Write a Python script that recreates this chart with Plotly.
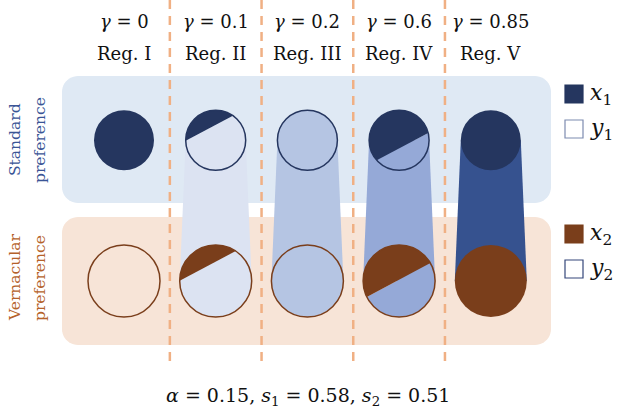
import numpy as np
import plotly.graph_objects as go

# ---------------- data ----------------
regimes = ["Reg. I", "Reg. II", "Reg. III", "Reg. IV", "Reg. V"]
gamma_labels = ["0", "0.1", "0.2", "0.6", "0.85"]
x1_share = [1.0, 0.22, 0.0, 0.65, 1.0]   # standard preference: share of x1
x2_share = [0.0, 0.21, 0.0, 0.48, 1.0]   # vernacular preference: share of x2
has_pillar = [False, True, True, True, True]
params_text = "<i>α</i> = 0.15, <i>s</i><sub>1</sub> = 0.58, <i>s</i><sub>2</sub> = 0.51"

# ---------------- style ----------------
NAVY = "#25365f"
BROWN = "#7a3e1b"
TOP_BOX = "#dfe9f4"
BOT_BOX = "#f7e4d7"
PILLAR = [None, "#dce3f2", "#b5c5e3", "#95a9d7", "#36528f"]
DASH = "#f0b084"
SERIF = "DejaVu Serif"

W, H = 624, 414
PX = 91.7     # pixels per unit (one regime step)
X0 = 124.0    # pixel x of first regime column
Y0 = 281.0    # pixel y of vernacular row


def ux(px):
    return (px - X0) / PX


def uy(py):
    return (Y0 - py) / PX


TOP_ROW = uy(140.3)
BOT_ROW = 0.0
R_TOP = 30 / PX
R_BOT = 36 / PX
THETA = np.deg2rad(28)

shapes = []
annotations = []


def path_from(xs, ys):
    s = "M {:.5f},{:.5f} ".format(xs[0], ys[0])
    s += " ".join("L {:.5f},{:.5f}".format(x, y) for x, y in zip(xs[1:], ys[1:]))
    return s + " Z"


def rounded_rect(x0, y0, x1, y1, rad):
    pts = []
    corners = [(x1 - rad, y0 + rad, -np.pi / 2, 0), (x1 - rad, y1 - rad, 0, np.pi / 2),
               (x0 + rad, y1 - rad, np.pi / 2, np.pi), (x0 + rad, y0 + rad, np.pi, 1.5 * np.pi)]
    for cx, cy, a0, a1 in corners:
        for a in np.linspace(a0, a1, 12):
            pts.append((ux(cx + rad * np.cos(a)), uy(cy + rad * np.sin(a))))
    xs, ys = zip(*pts)
    return path_from(xs, ys)


def seg_offset(f, r):
    lo, hi = -r, r
    for _ in range(80):
        t = (lo + hi) / 2
        a = (r * r * np.arccos(t / r) - t * np.sqrt(max(r * r - t * t, 0))) / (np.pi * r * r)
        if a > f:
            lo = t
        else:
            hi = t
    return (lo + hi) / 2


def arc_path(cx, cy, r, a0, a1):
    ph = np.linspace(a0, a1, 90)
    return path_from(cx + r * np.cos(ph), cy + r * np.sin(ph))


def add_circle(cx, cy, r, share, fill_color, bg_color, outline):
    if share >= 1:
        shapes.append(dict(type="circle", xref="x", yref="y", x0=cx - r, x1=cx + r,
                           y0=cy - r, y1=cy + r, fillcolor=fill_color, line=dict(width=0)))
        return
    if share <= 0:
        shapes.append(dict(type="circle", xref="x", yref="y", x0=cx - r, x1=cx + r,
                           y0=cy - r, y1=cy + r,
                           fillcolor=bg_color if bg_color else "rgba(0,0,0,0)",
                           line=dict(color=outline, width=1.5)))
        return
    t = seg_offset(share, r)
    beta = np.arccos(t / r)
    psi = THETA + np.pi / 2
    shapes.append(dict(type="path", xref="x", yref="y",
                       path=arc_path(cx, cy, r, psi + beta, psi - beta + 2 * np.pi),
                       fillcolor=bg_color, line=dict(width=0)))
    shapes.append(dict(type="path", xref="x", yref="y",
                       path=arc_path(cx, cy, r, psi - beta, psi + beta),
                       fillcolor=fill_color, line=dict(width=0)))
    shapes.append(dict(type="circle", xref="x", yref="y", x0=cx - r, x1=cx + r,
                       y0=cy - r, y1=cy + r, fillcolor="rgba(0,0,0,0)",
                       line=dict(color=outline, width=1.5)))


# background boxes
shapes.append(dict(type="path", xref="x", yref="y", path=rounded_rect(62, 76, 551, 203, 16),
                   fillcolor=TOP_BOX, line=dict(width=0)))
shapes.append(dict(type="path", xref="x", yref="y", path=rounded_rect(62, 217, 551, 345, 16),
                   fillcolor=BOT_BOX, line=dict(width=0)))

# dashed separators
for i in range(len(regimes) - 1):
    shapes.append(dict(type="line", xref="x", yref="y", x0=i + 0.5, x1=i + 0.5,
                       y0=uy(0), y1=uy(368), line=dict(color=DASH, width=2.5, dash="9px,7px")))

# pillars
for i, p in enumerate(has_pillar):
    if p:
        xs = [i - R_TOP, i + R_TOP, i + R_BOT, i - R_BOT]
        ys = [TOP_ROW, TOP_ROW, BOT_ROW, BOT_ROW]
        shapes.append(dict(type="path", xref="x", yref="y", path=path_from(xs, ys),
                           fillcolor=PILLAR[i], line=dict(width=0)))

# circles
for i in range(len(regimes)):
    add_circle(i, TOP_ROW, R_TOP, x1_share[i], NAVY, PILLAR[i], NAVY)
    add_circle(i, BOT_ROW, R_BOT, x2_share[i], BROWN, PILLAR[i], BROWN)

# top labels
for i, (g, rg) in enumerate(zip(gamma_labels, regimes)):
    annotations.append(dict(x=i, y=uy(21), xref="x", yref="y", showarrow=False,
                            text="<i>γ</i> = " + g, font=dict(family=SERIF, size=18, color="#111")))
    annotations.append(dict(x=i, y=uy(53), xref="x", yref="y", showarrow=False,
                            text=rg, font=dict(family=SERIF, size=18, color="#111")))

# row labels
for txt, px, py, col in [("Standard", 15, 140, "#3a5596"), ("preference", 40, 140, "#3a5596"),
                         ("Vernacular", 15, 278, "#b5622a"), ("preference", 40, 278, "#b5622a")]:
    annotations.append(dict(x=ux(px), y=uy(py), xref="x", yref="y", showarrow=False, text=txt,
                            textangle=-90, font=dict(family="DejaVu Serif", size=15.5, color=col)))

# legend
leg = [(94, NAVY, NAVY, "<i>x</i><sub>1</sub>"), (129, "white", "#7d8bb0", "<i>y</i><sub>1</sub>"),
       (234, BROWN, BROWN, "<i>x</i><sub>2</sub>"), (269, "white", "#34467a", "<i>y</i><sub>2</sub>")]
for py, fc, lc, lab in leg:
    shapes.append(dict(type="rect", xref="x", yref="y", x0=ux(565), x1=ux(583),
                       y0=uy(py - 9), y1=uy(py + 9), fillcolor=fc, line=dict(color=lc, width=1.2)))
    annotations.append(dict(x=ux(588), y=uy(py), xref="x", yref="y", showarrow=False, text=lab,
                            xanchor="left", font=dict(family=SERIF, size=22, color="#111")))

annotations.append(dict(x=ux(308), y=uy(396), xref="x", yref="y", showarrow=False, text=params_text,
                        font=dict(family=SERIF, size=19, color="#111")))

fig = go.Figure()
fig.add_trace(go.Scatter(x=[ux(0)], y=[uy(0)], mode="markers", marker=dict(opacity=0),
                         hoverinfo="skip", showlegend=False))
fig.update_layout(
    width=W, height=H, margin=dict(l=0, r=0, t=0, b=0),
    paper_bgcolor="white", plot_bgcolor="white",
    xaxis=dict(range=[ux(0), ux(W)], visible=False, fixedrange=True),
    yaxis=dict(range=[uy(H), uy(0)], visible=False, fixedrange=True),
    shapes=shapes, annotations=annotations, showlegend=False,
)
fig.write_html("out.html", config={"displayModeBar": False},
               post_script="document.body.style.margin='0';document.body.style.overflow='hidden';")
